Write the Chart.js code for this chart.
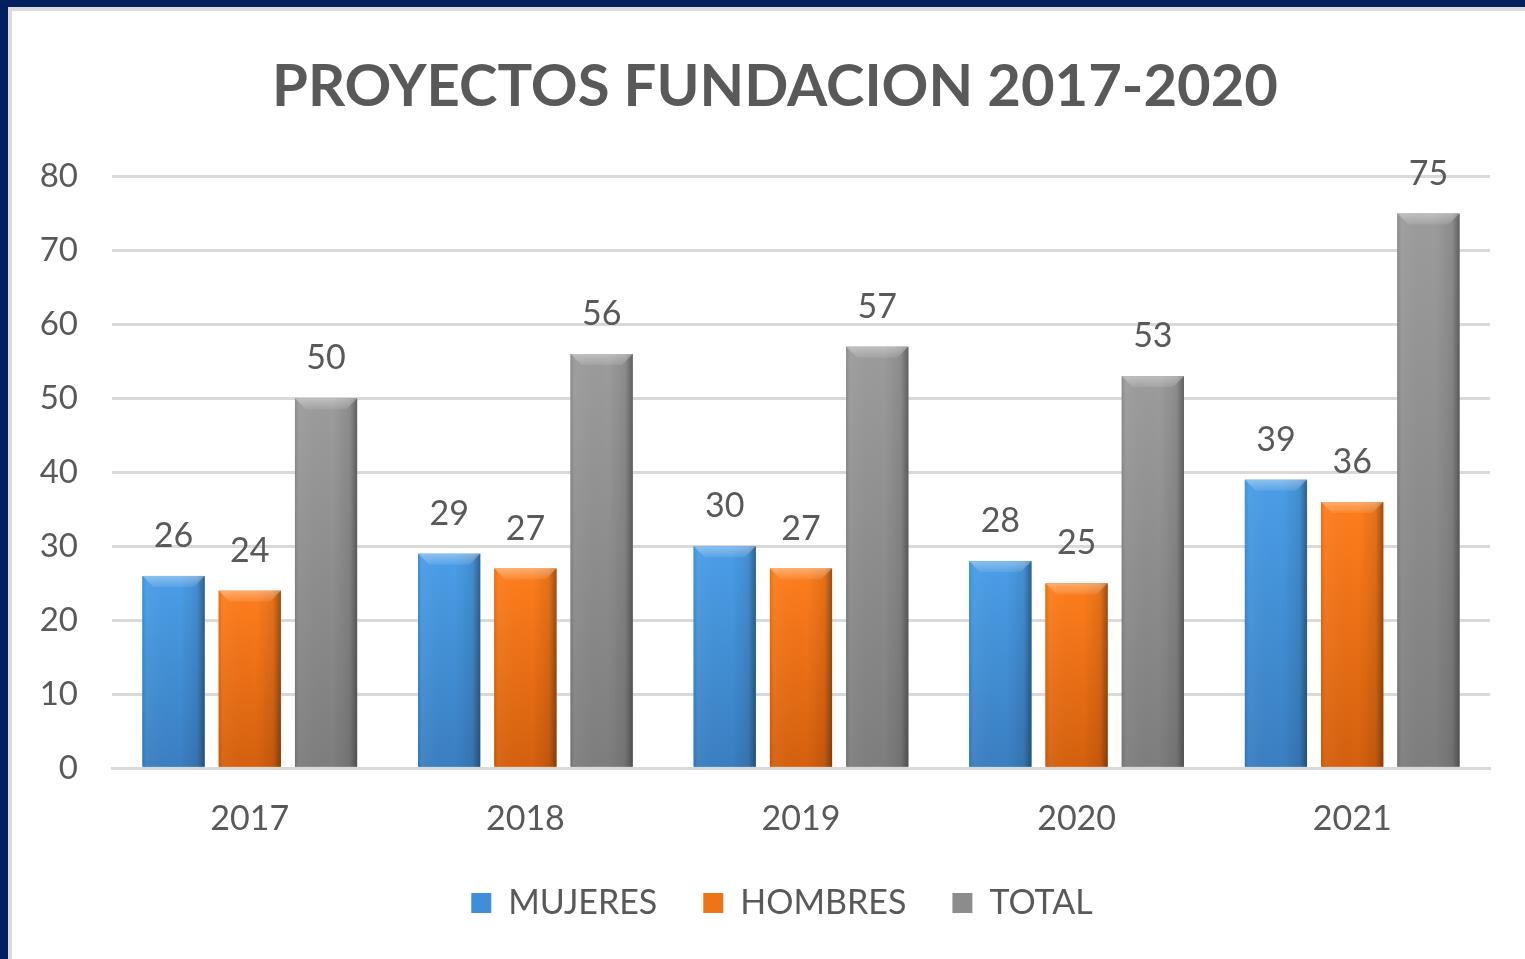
<!DOCTYPE html>
<html>
<head>
<meta charset="utf-8">
<script src="https://cdn.jsdelivr.net/npm/chart.js@4/dist/chart.umd.min.js"></script>
<style>
  html, body { margin: 0; padding: 0; background: #002060; overflow: hidden; }
  #frame {
    position: absolute; left: 8px; top: 7px; width: 1517px; height: 952px;
    background: #fff; box-shadow: inset 4px 4px 0 #dcdcdc;
  }
  #wrap { position: absolute; left: 4px; top: 4px; width: 1513px; height: 948px; }
</style>
</head>
<body>
<div id="frame"><div id="wrap"><canvas id="myChart"></canvas></div></div>
<script>
let years = ['2017', '2018', '2019', '2020', '2021'];
let mujeres = [26, 29, 30, 28, 39];
let hombres = [24, 27, 27, 25, 36];
let total = [50, 56, 57, 53, 75];
let yTicks = [0, 10, 20, 30, 40, 50, 60, 70, 80];

let baseColors = ['#3f8fd8', '#ee7418', '#8c8c8c'];
let topColors = ['#4a9ee8', '#ff7e1c', '#9c9c9c'];
let bottomColors = ['#3a7fc2', '#d5600e', '#7e7e7e'];
let textColor = '#595959';
let font = 'Lato, "Open Sans", sans-serif';

// shading + bevel on each bar, and the value on top
const barLook = {
  id: 'barLook',
  afterDatasetsDraw(chart) {
    const ctx = chart.ctx;
    chart.data.datasets.forEach((ds, di) => {
      const meta = chart.getDatasetMeta(di);
      meta.data.forEach((el, i) => {
        const w = el.width, l = el.x - w / 2, r = el.x + w / 2, t = el.y, b = el.base;
        ctx.save();
        let v = ctx.createLinearGradient(0, t, 0, b);
        v.addColorStop(0, topColors[di]);
        v.addColorStop(1, bottomColors[di]);
        ctx.fillStyle = v;
        ctx.fillRect(l, t, w, b - t);
        let g = ctx.createLinearGradient(l, 0, r, 0);
        g.addColorStop(0, 'rgba(0,0,0,0.12)');
        g.addColorStop(0.08, 'rgba(255,255,255,0.04)');
        g.addColorStop(0.6, 'rgba(0,0,0,0)');
        g.addColorStop(0.88, 'rgba(0,0,0,0.1)');
        g.addColorStop(1, 'rgba(0,0,0,0.38)');
        ctx.fillStyle = g;
        ctx.fillRect(l, t, w, b - t);
        let bv = 11;
        ctx.beginPath();
        ctx.moveTo(l, t); ctx.lineTo(r, t); ctx.lineTo(r - bv, t + bv); ctx.lineTo(l + bv, t + bv); ctx.closePath();
        let bg = ctx.createLinearGradient(0, t, 0, t + bv);
        bg.addColorStop(0, 'rgba(255,255,255,0.35)');
        bg.addColorStop(1, 'rgba(255,255,255,0.08)');
        ctx.fillStyle = bg;
        ctx.fill();
        ctx.fillStyle = textColor;
        ctx.font = '34px ' + font;
        ctx.textAlign = 'center';
        ctx.textBaseline = 'middle';
        ctx.fillText(ds.data[i], el.x, t - 40);
        ctx.restore();
      });
    });
  }
};

// title and legend sit a bit right of the plot's centre in the original
const nudge = {
  id: 'nudge',
  afterLayout(chart) {
    chart.titleBlock.left += 10; chart.titleBlock.right += 10;
    chart.legend.left += 17; chart.legend.right += 17;
  }
};

const data = {
  labels: years,
  datasets: [
    { label: 'MUJERES', data: mujeres, backgroundColor: baseColors[0] },
    { label: 'HOMBRES', data: hombres, backgroundColor: baseColors[1] },
    { label: 'TOTAL', data: total, backgroundColor: baseColors[2] }
  ]
};

const config = {
  type: 'bar',
  data: data,
  options: {
    responsive: true,
    maintainAspectRatio: false,
    animation: false,
    datasets: { bar: { categoryPercentage: 0.83, barPercentage: 0.815 } },
    layout: { padding: { left: 28, right: 35, top: 0, bottom: 29 } },
    plugins: {
      title: {
        display: true,
        text: 'PROYECTOS FUNDACION 2017-2020',
        color: textColor,
        font: { family: font, size: 58, weight: 'bold' },
        padding: { top: 41, bottom: 55 }
      },
      legend: {
        position: 'bottom',
        labels: {
          color: textColor,
          font: { family: font, size: 34 },
          boxWidth: 20, boxHeight: 20,
          padding: 46
        }
      },
      tooltip: { enabled: false }
    },
    scales: {
      x: {
        grid: { display: false },
        border: { color: '#d9d9d9', width: 3 },
        ticks: { color: textColor, font: { family: font, size: 34 }, padding: 22 },
        afterFit(axis) { axis.height -= 21; }
      },
      y: {
        min: 0, max: 80,
        afterBuildTicks(axis) { axis.ticks = yTicks.map(v => ({ value: v })); },
        afterFit(axis) { axis.width = 72; },
        grid: { color: '#d9d9d9', lineWidth: 3, drawTicks: false },
        border: { display: false },
        ticks: { color: textColor, font: { family: font, size: 33 }, padding: 34 }
      }
    }
  },
  plugins: [barLook, nudge]
};

var ctx = document.getElementById('myChart');
var mychart = new Chart(ctx, config);
</script>
</body>
</html>
